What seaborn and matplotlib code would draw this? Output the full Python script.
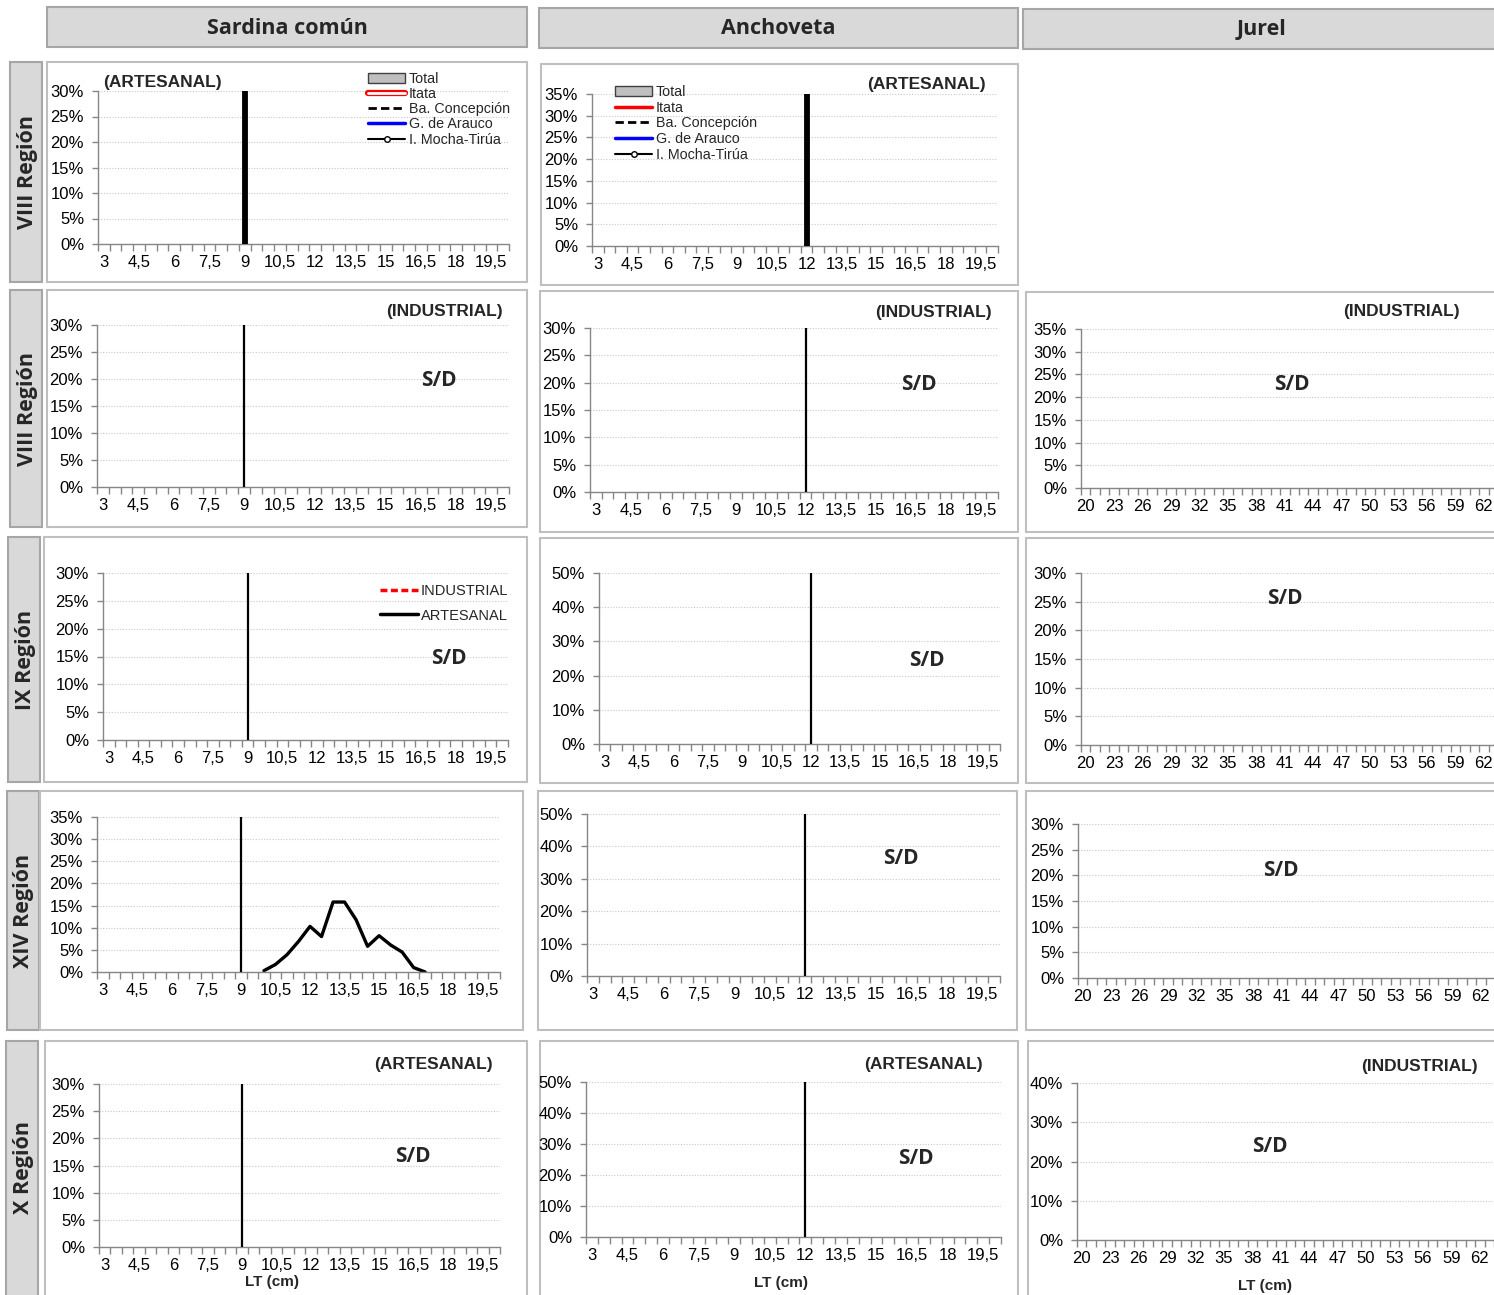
import numpy as np
import pandas as pd
import matplotlib
matplotlib.use("Agg")
import matplotlib.pyplot as plt
import seaborn as sns
from matplotlib.patches import Rectangle, Patch
from matplotlib.lines import Line2D
from matplotlib.legend_handler import HandlerTuple

sns.set_theme(style="white")
plt.rcParams['font.family'] = ['Liberation Sans', 'DejaVu Sans']

W, H = 1494, 1295

# ---- data ----
species = ["Sardina común", "Anchoveta", "Jurel"]
regions = ["VIII Región", "VIII Región", "IX Región", "XIV Región", "X Región"]

small_ticks = ["3", "4,5", "6", "7,5", "9", "10,5", "12", "13,5", "15", "16,5", "18", "19,5"]
jurel_ticks = ["20", "23", "26", "29", "32", "35", "38", "41", "44", "47", "50", "53", "56", "59", "62"]

# talla minima de referencia (cm)
ref_lt = [9, 12, None]

# maximo eje y (%) por fila / especie
ymax = [[30, 35, None],
        [30, 30, 35],
        [30, 50, 30],
        [35, 50, 30],
        [30, 50, 40]]

# XIV Region, sardina comun artesanal
xiv_lt = [10, 10.5, 11, 11.5, 12, 12.5, 13, 13.5, 14, 14.5, 15, 15.5, 16, 16.5, 17]
xiv_pct = [0.3, 1.7, 3.9, 6.9, 10.3, 8.0, 15.8, 15.8, 11.8, 5.8, 8.2, 6.1, 4.5, 1.0, 0.0]
xiv = pd.DataFrame({"LT": xiv_lt, "pct": xiv_pct})

# ---- layout (pixels) ----
header_boxes = [(47, 7, 527, 47), (539, 8, 1018, 48), (1023, 9, 1500, 49)]
row_boxes = [(10, 62, 42, 282), (10, 290, 42, 527), (8, 537, 40, 782),
             (7, 791, 39, 1030), (6, 1041, 38, 1300)]
panel_boxes = {
    (0, 0): (47, 62, 527, 282), (0, 1): (541, 64, 1018, 285),
    (1, 0): (47, 290, 527, 527), (1, 1): (540, 291, 1018, 532), (1, 2): (1026, 292, 1500, 532),
    (2, 0): (44, 537, 527, 782), (2, 1): (540, 538, 1018, 783), (2, 2): (1026, 538, 1500, 783),
    (3, 0): (40, 791, 523, 1030), (3, 1): (538, 791, 1017, 1030), (3, 2): (1026, 791, 1500, 1030),
    (4, 0): (45, 1041, 527, 1300), (4, 1): (540, 1041, 1018, 1300), (4, 2): (1028, 1041, 1500, 1300),
}
axes_boxes = {
    (0, 0): (98, 91, 509, 244), (0, 1): (592, 94, 998, 246),
    (1, 0): (97, 325, 509, 487), (1, 1): (590, 328, 998, 492), (1, 2): (1081, 329, 1498, 488),
    (2, 0): (103, 573, 508, 740), (2, 1): (599, 573, 1000, 744), (2, 2): (1081, 573, 1498, 745),
    (3, 0): (97, 817, 500, 972), (3, 1): (587, 814, 1000, 976), (3, 2): (1078, 824, 1495, 978),
    (4, 0): (99, 1084, 500, 1247), (4, 1): (586, 1082, 1001, 1237), (4, 2): (1077, 1083, 1494, 1240),
}
fleet_labels = [
    (103, 83, "(ARTESANAL)", "left"), (986, 85, "(ARTESANAL)", "right"),
    (503, 311, "(INDUSTRIAL)", "right"), (992, 313, "(INDUSTRIAL)", "right"),
    (1460, 311, "(INDUSTRIAL)", "right"),
    (493, 1064, "(ARTESANAL)", "right"), (983, 1064, "(ARTESANAL)", "right"),
    (1478, 1066, "(INDUSTRIAL)", "right"),
]
sd_pos = [(439, 380), (919, 384), (1292, 384), (449, 659), (927, 660), (1285, 598),
          (901, 858), (1281, 870), (413, 1156), (916, 1159), (1270, 1147)]
lt_pos = [(272, 1282), (781, 1283), (1265, 1286)]

CAL = ["Open Sans", "DejaVu Sans"]


def fx(x):
    return x / W


def fy(y):
    return 1 - y / H


def box(fig, b, face, edge, lw=1.5):
    x0, y0, x1, y1 = b
    fig.add_artist(Rectangle((fx(x0), fy(y1)), fx(x1) - fx(x0), fy(y0) - fy(y1),
                             transform=fig.transFigure, facecolor=face,
                             edgecolor=edge, lw=lw, zorder=-2))


fig = plt.figure(figsize=(W / 100, H / 100), dpi=100)
fig.patch.set_facecolor("white")

for i, b in enumerate(header_boxes):
    box(fig, b, "#d9d9d9", "#a6a6a6")
    fig.text(fx((b[0] + b[2]) / 2), fy((b[1] + b[3]) / 2 + 1), species[i],
             ha="center", va="center", fontsize=15.5, fontweight="bold", family=CAL)

for i, b in enumerate(row_boxes):
    box(fig, b, "#d9d9d9", "#a6a6a6")
    cy = (b[1] + min(b[3], H)) / 2
    fig.text(fx((b[0] + b[2]) / 2 + 1), fy(cy), regions[i], rotation=90,
             ha="center", va="center", fontsize=15.5, fontweight="bold", family=CAL)

axes = {}
for (r, c), b in panel_boxes.items():
    box(fig, b, "white", "#bfbfbf")
    x0, y0, x1, y1 = axes_boxes[(r, c)]
    ax = fig.add_axes([fx(x0), fy(y1), fx(x1) - fx(x0), fy(y0) - fy(y1)])
    axes[(r, c)] = ax
    ax.set_facecolor("none")
    top = ymax[r][c]
    step = 10 if top >= 40 else 5
    yt = list(range(0, top + 1, step))
    ax.set_ylim(0, top)
    ax.set_yticks(yt)
    ax.set_yticklabels([f"{v}%" for v in yt])
    if c < 2:
        pos = [float(t.replace(",", ".")) for t in small_ticks]
        ax.set_xlim(2.75, 20.25)
        ax.set_xticks(pos)
        ax.set_xticklabels(small_ticks)
        ax.set_xticks(np.arange(2.75, 20.3, 0.5), minor=True)
    else:
        pos = [float(t) for t in jurel_ticks]
        ax.set_xlim(19.5, 63.5)
        ax.set_xticks(pos)
        ax.set_xticklabels(jurel_ticks)
        ax.set_xticks(np.arange(19.5, 63.6, 1.0), minor=True)
    ax.yaxis.grid(True, linestyle=(0, (1, 1.5)), color="#c8c8c8", lw=0.8)
    ax.xaxis.grid(False)
    ax.set_axisbelow(True)
    for s in ["top", "right"]:
        ax.spines[s].set_visible(False)
    for s in ["left", "bottom"]:
        ax.spines[s].set_color("#868686")
        ax.spines[s].set_linewidth(1.0)
    ax.tick_params(axis="y", which="major", left=True, length=4, width=1,
                   color="#868686", pad=6, labelsize=12, labelcolor="black")
    ax.tick_params(axis="x", which="major", bottom=True, length=0, pad=8,
                   labelsize=12, labelcolor="black")
    ax.tick_params(axis="x", which="minor", bottom=True, length=5, width=1,
                   color="#868686")
    if ref_lt[c] is not None:
        lw = 4.2 if r == 0 else 1.6
        ax.axvline(ref_lt[c], color="black", lw=lw, zorder=3)

# XIV Region curve
sns.lineplot(data=xiv, x="LT", y="pct", ax=axes[(3, 0)], color="black", lw=2.4, legend=False)
axes[(3, 0)].set_xlabel("")
axes[(3, 0)].set_ylabel("")

# legends
zone_labels = ["Total", "Itata", "Ba. Concepción", "G. de Arauco", "I. Mocha-Tirúa"]


def zone_handles(outline_itata):
    total = Patch(facecolor="#bfbfbf", edgecolor="#404040", lw=1)
    if outline_itata:
        itata = (Line2D([], [], color="red", lw=4.5), Line2D([], [], color="white", lw=2))
    else:
        itata = Line2D([], [], color="red", lw=2.5)
    return [total, itata,
            Line2D([], [], color="black", lw=2, ls=(0, (3, 1.5))),
            Line2D([], [], color="blue", lw=2.5),
            Line2D([], [], color="black", lw=1.5, marker="o", ms=4, mfc="white", mec="black")]


axes[(0, 0)].legend(zone_handles(True), zone_labels, loc="upper left",
                    bbox_to_anchor=(fx(368), fy(72)), bbox_transform=fig.transFigure,
                    frameon=False, fontsize=10.3, handlelength=2.6, handletextpad=0.25,
                    labelspacing=0.08, borderpad=0, borderaxespad=0,
                    handler_map={tuple: HandlerTuple(ndivide=1)})
axes[(0, 1)].legend(zone_handles(False), zone_labels, loc="upper left",
                    bbox_to_anchor=(fx(615), fy(85)), bbox_transform=fig.transFigure,
                    frameon=False, fontsize=10.3, handlelength=2.6, handletextpad=0.25,
                    labelspacing=0.12, borderpad=0, borderaxespad=0)
axes[(2, 0)].legend([Line2D([], [], color="red", lw=2.5, ls=(0, (2, 1))),
                     Line2D([], [], color="black", lw=2.5)],
                    ["INDUSTRIAL", "ARTESANAL"], loc="upper left",
                    bbox_to_anchor=(fx(380), fy(584)), bbox_transform=fig.transFigure,
                    frameon=False, fontsize=10.5, handlelength=2.6, handletextpad=0.2,
                    labelspacing=0.72, borderpad=0, borderaxespad=0)

for x, y, t, ha in fleet_labels:
    fig.text(fx(x), fy(y), t, ha=ha, va="center", fontsize=12.5, fontweight="bold")
for x, y in sd_pos:
    fig.text(fx(x), fy(y), "S/D", ha="center", va="center", fontsize=15,
             fontweight="bold", family=CAL)
for x, y in lt_pos:
    fig.text(fx(x), fy(y), "LT (cm)", ha="center", va="center", fontsize=11,
             fontweight="bold")

fig.savefig("out.png", dpi=100)
